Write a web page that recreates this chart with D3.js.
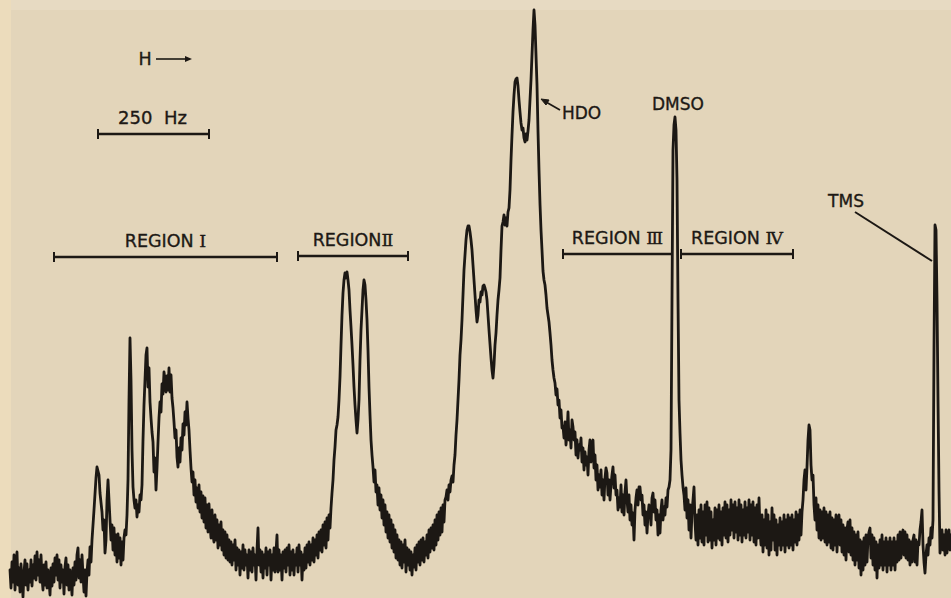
<!DOCTYPE html>
<html>
<head>
<meta charset="utf-8">
<script src="https://cdn.jsdelivr.net/npm/d3@7"></script>
<style>
  html, body { margin: 0; padding: 0; background: #e3d5ba; }
  svg { display: block; }
  text { font-family: "DejaVu Sans", "Liberation Sans", sans-serif; fill: #1d1915; stroke: #1d1915; stroke-width: 0.35; }
  tspan.num { font-family: "DejaVu Serif", "Liberation Serif", serif; }
</style>
</head>
<body>
<svg id="chart" width="951" height="598"></svg>
<script>
// Recorder trace: [chart position, pen deflection] (arbitrary units, field increases to the right)
const trace = [
[10,30],[11,12],[12,38],[13,18],[14,45],[15,10],[16,35],[17,48],[18,15],[19,32],[20,8],[21,36],[22,20],[23,3],[24,28],[25,40],[26,15],[27,36],[28,10],[29,30],[30,18],[31,40],[32,14],[33,35],[34,22],[35,44],[36,20],[37,48],[38,25],[39,40],[40,18],[41,45],[42,22],[43,10],[44,35],[45,15],[46,38],[47,12],[48,30],[49,20],[50,5],[51,32],[52,14],[53,36],[54,18],[55,42],[56,25],[57,45],[58,20],[59,40],[60,12],[61,35],[62,18],[63,30],[64,6],[65,33],[66,42],[67,15],[68,35],[69,10],[70,30],[71,20],[72,5],[73,32],[74,15],[75,38],[76,20],[77,45],[78,52],[79,22],[80,40],[81,18],[82,45],[83,25],[84,8],[85,30],[86,4],[87,28],[88,40],[89,25],[90,53],[91,38],[92,60],[93,75],[94,90],[96,122],[97,133],[99,125],[100,107],[102,88],[103,70],[104,80],[105,47],[106,60],[107,100],[108,120],[109,100],[110,80],[111,60],[112,75],[113,50],[114,72],[115,45],[116,65],[117,38],[118,66],[119,42],[120,62],[121,35],[122,58],[123,40],[124,62],[125,70],[126,65],[127,85],[128,120],[129,200],[130,262],[131,220],[132,150],[133,113],[134,100],[135,92],[136,100],[137,83],[138,95],[139,88],[140,105],[141,100],[142,115],[143,160],[144,195],[145,220],[146,245],[147,252],[148,213],[149,232],[150,198],[151,182],[152,168],[153,158],[154,128],[155,142],[156,110],[157,132],[158,158],[159,182],[160,198],[161,188],[162,216],[163,206],[164,228],[165,220],[166,208],[167,224],[168,210],[169,232],[170,208],[171,225],[172,202],[173,192],[174,178],[175,162],[176,170],[177,143],[178,133],[179,152],[180,138],[181,162],[182,150],[183,176],[184,165],[185,188],[186,175],[187,198],[188,182],[189,170],[190,150],[191,132],[192,118],[193,128],[194,105],[195,120],[196,98],[197,112],[198,92],[199,115],[200,88],[201,108],[202,82],[203,104],[204,78],[205,102],[206,72],[207,95],[208,68],[209,96],[210,75],[211,62],[212,90],[213,65],[214,58],[215,85],[216,60],[217,80],[218,52],[219,75],[220,55],[221,78],[222,50],[223,70],[224,45],[225,68],[226,42],[227,65],[228,40],[229,60],[230,38],[231,58],[232,35],[233,55],[234,40],[235,60],[236,30],[237,52],[238,35],[239,50],[240,25],[241,48],[242,32],[243,55],[244,30],[245,50],[246,35],[247,45],[248,22],[249,50],[250,30],[251,48],[252,28],[253,52],[254,35],[255,45],[256,20],[257,50],[258,72],[259,35],[260,50],[261,28],[262,48],[263,22],[264,45],[265,32],[266,52],[267,25],[268,48],[269,35],[270,50],[271,20],[272,45],[273,30],[274,52],[275,28],[276,48],[277,65],[278,28],[279,50],[280,30],[281,45],[282,20],[283,48],[284,32],[285,50],[286,28],[287,52],[288,35],[289,55],[290,25],[291,48],[292,30],[293,50],[294,25],[295,45],[296,35],[297,52],[298,28],[299,55],[300,35],[301,48],[302,20],[303,45],[304,30],[305,52],[306,32],[307,55],[308,38],[309,58],[310,35],[311,55],[312,40],[313,62],[314,38],[315,60],[316,45],[317,65],[318,42],[319,68],[320,50],[321,70],[322,48],[323,75],[324,55],[325,78],[326,52],[327,82],[328,60],[329,85],[330,72],[331,92],[332,107],[333,120],[334,140],[335,153],[336,170],[337,175],[338,183],[339,200],[340,223],[341,255],[342,285],[343,307],[344,320],[345,327],[346,322],[347,328],[348,320],[349,310],[350,290],[351,273],[352,255],[353,235],[354,213],[355,195],[356,180],[357,167],[358,180],[359,200],[360,240],[361,270],[362,290],[363,310],[364,320],[365,315],[366,300],[367,280],[368,250],[369,213],[370,185],[371,160],[372,145],[373,133],[374,118],[375,130],[376,108],[377,115],[378,95],[379,112],[380,90],[381,105],[382,82],[383,100],[384,75],[385,95],[386,68],[387,88],[388,62],[389,85],[390,58],[391,80],[392,52],[393,75],[394,48],[395,70],[396,42],[397,65],[398,40],[399,60],[400,35],[401,58],[402,32],[403,55],[404,38],[405,60],[406,28],[407,52],[408,35],[409,50],[410,30],[411,48],[412,25],[413,45],[414,33],[415,52],[416,30],[417,55],[418,38],[419,58],[420,35],[421,60],[422,40],[423,62],[424,38],[425,58],[426,45],[427,65],[428,42],[429,70],[430,48],[431,72],[432,52],[433,75],[434,50],[435,80],[436,55],[437,85],[438,60],[439,88],[440,65],[441,92],[442,68],[443,95],[444,78],[445,100],[446,103],[447,110],[448,100],[449,115],[450,108],[451,120],[452,124],[453,118],[454,135],[455,145],[456,165],[457,180],[458,200],[459,220],[460,245],[461,260],[462,280],[463,305],[464,330],[465,345],[466,360],[467,370],[468,374],[469,374],[470,368],[471,360],[472,350],[473,335],[474,320],[475,305],[476,290],[477,278],[478,285],[479,300],[480,298],[481,308],[482,305],[483,314],[484,315],[485,312],[486,308],[487,300],[488,285],[489,270],[490,256],[491,242],[492,230],[493,222],[494,235],[495,255],[496,267],[497,285],[498,300],[499,310],[500,322],[501,350],[502,374],[503,378],[504,385],[505,375],[506,382],[507,374],[508,388],[509,392],[510,410],[511,440],[512,465],[513,488],[514,505],[515,518],[516,521],[517,522],[518,514],[519,500],[520,488],[521,477],[522,470],[523,472],[524,462],[525,458],[526,466],[527,460],[528,469],[529,480],[530,500],[531,520],[532,545],[533,570],[534,590],[535,575],[536,545],[537,515],[538,469],[539,430],[540,396],[541,370],[542,350],[543,329],[544,320],[545,315],[546,305],[547,292],[548,285],[549,278],[550,267],[551,255],[552,240],[553,230],[554,222],[555,217],[556,205],[557,211],[558,195],[559,200],[560,182],[561,190],[562,172],[563,174],[564,162],[565,178],[566,155],[567,167],[568,188],[569,160],[570,170],[571,152],[572,180],[573,173],[574,160],[575,168],[576,145],[577,160],[578,142],[579,155],[580,150],[581,162],[582,138],[583,152],[584,130],[585,148],[586,135],[587,143],[588,125],[589,150],[590,160],[591,138],[592,155],[593,160],[594,132],[595,145],[596,120],[597,135],[598,110],[599,125],[600,113],[601,130],[602,105],[603,120],[604,100],[605,122],[606,132],[607,127],[608,105],[609,120],[610,100],[611,115],[612,125],[613,133],[614,112],[615,125],[616,105],[617,110],[618,90],[619,102],[620,93],[621,115],[622,88],[623,105],[624,85],[625,108],[626,120],[627,100],[628,88],[629,105],[630,80],[631,95],[632,75],[633,87],[634,60],[635,90],[636,102],[637,110],[638,95],[639,113],[640,113],[641,100],[642,105],[643,85],[644,95],[645,75],[646,88],[647,67],[648,85],[649,95],[650,90],[651,75],[652,102],[653,107],[654,88],[655,100],[656,80],[657,90],[658,65],[659,85],[660,67],[661,90],[662,100],[663,80],[664,93],[665,85],[666,102],[667,93],[668,110],[669,113],[670,120],[671,150],[672,300],[673,450],[674,475],[675,483],[676,470],[677,420],[678,300],[679,200],[680,167],[681,140],[682,125],[683,113],[684,105],[685,90],[686,112],[687,82],[688,100],[689,70],[690,95],[691,62],[692,88],[693,100],[694,113],[695,78],[696,60],[697,85],[698,55],[699,90],[700,62],[701,95],[702,58],[703,88],[704,55],[705,95],[706,65],[707,98],[708,58],[709,92],[710,60],[711,88],[712,52],[713,80],[714,60],[715,92],[716,55],[717,90],[718,62],[719,95],[720,60],[721,88],[722,55],[723,92],[724,65],[725,98],[726,62],[727,95],[728,58],[729,90],[730,65],[731,100],[732,70],[733,95],[734,62],[735,98],[736,68],[737,92],[738,60],[739,100],[740,65],[741,95],[742,58],[743,90],[744,65],[745,98],[746,62],[747,92],[748,68],[749,100],[750,60],[751,95],[752,65],[753,98],[754,58],[755,92],[756,55],[757,95],[758,62],[759,102],[760,70],[761,55],[762,85],[763,48],[764,80],[765,55],[766,90],[767,52],[768,85],[769,45],[770,78],[771,50],[772,92],[773,60],[774,85],[775,50],[776,80],[777,45],[778,75],[779,55],[780,82],[781,50],[782,78],[783,55],[784,85],[785,48],[786,80],[787,55],[788,85],[789,52],[790,82],[791,55],[792,85],[793,50],[794,80],[795,58],[796,88],[797,55],[798,85],[799,60],[800,90],[801,65],[802,88],[803,100],[804,120],[805,130],[806,110],[807,133],[808,160],[809,175],[810,170],[811,135],[812,120],[813,125],[814,95],[815,80],[816,102],[817,70],[818,95],[819,62],[820,90],[821,60],[822,88],[823,62],[824,92],[825,58],[826,88],[827,55],[828,85],[829,58],[830,88],[831,52],[832,82],[833,50],[834,80],[835,55],[836,85],[837,48],[838,78],[839,85],[840,55],[841,80],[842,48],[843,75],[844,45],[845,72],[846,40],[847,70],[848,78],[849,48],[850,80],[851,45],[852,72],[853,40],[854,68],[855,35],[856,65],[857,40],[858,68],[859,32],[860,60],[861,25],[862,58],[863,30],[864,62],[865,35],[866,65],[867,38],[868,62],[869,68],[870,72],[871,42],[872,65],[873,35],[874,62],[875,30],[876,58],[877,22],[878,55],[879,32],[880,60],[881,35],[882,65],[883,30],[884,58],[885,35],[886,62],[887,28],[888,58],[889,35],[890,62],[891,30],[892,58],[893,35],[894,62],[895,30],[896,58],[897,38],[898,65],[899,40],[900,68],[901,42],[902,65],[903,70],[904,45],[905,68],[906,42],[907,65],[908,40],[909,60],[910,35],[911,58],[912,38],[913,60],[914,65],[915,38],[916,60],[917,35],[918,58],[919,55],[920,70],[921,78],[922,90],[923,55],[924,38],[925,27],[926,45],[927,55],[928,45],[929,62],[930,55],[931,72],[932,62],[933,80],[934,250],[935,375],[936,370],[937,300],[938,200],[939,110],[940,47],[941,55],[942,70],[943,50],[944,65],[945,45],[946,70],[947,47],[948,62],[949,70],[950,50],[951,65]
];

// Integration regions along the chart position axis
const regionWords   = ["REGION ", "REGION", "REGION ", "REGION "];
const regionNumbers = ["Ⅰ", "Ⅱ", "Ⅲ", "Ⅳ"];
const regionStart = [54, 298, 563, 681];
const regionEnd   = [277, 408, 672, 793];

// Scale bar: 250 Hz expressed in chart position units
const scaleBarLabel = "250  Hz";
const scaleBarFrom = 98;
const scaleBarTo = 209;

// Reference peaks that carry a label
const peakNames = ["HDO", "DMSO", "TMS"];
const peakPos   = [534, 675, 935];

const W = 951, H = 598;
const svg = d3.select("#chart");

const x = d3.scaleLinear().domain([0, 951]).range([0, W]);
const y = d3.scaleLinear().domain([0, 600]).range([600, 0]);

// paper
svg.append("rect").attr("width", W).attr("height", H).attr("fill", "#e3d5ba");
svg.append("rect").attr("width", W).attr("height", 10).attr("fill", "#e7dac2");
svg.append("rect").attr("width", 11).attr("height", H).attr("fill", "#ecdcbc");

const ink = "#1c1814";

// spectrum trace
const line = d3.line().x(d => x(d[0])).y(d => y(d[1]));
svg.append("path")
  .datum(trace)
  .attr("d", line)
  .attr("fill", "none")
  .attr("stroke", ink)
  .attr("stroke-width", 2.8)
  .attr("stroke-linejoin", "round")
  .attr("stroke-linecap", "round");

// bracket helper
function bracket(x0, x1, yy) {
  const g = svg.append("g").attr("stroke", ink).attr("fill", "none");
  g.append("line").attr("x1", x(x0)).attr("x2", x(x1)).attr("y1", yy).attr("y2", yy).attr("stroke-width", 2.4);
  [x0, x1].forEach(v => g.append("line").attr("x1", x(v)).attr("x2", x(v)).attr("y1", yy - 5).attr("y2", yy + 5).attr("stroke-width", 2));
}

// region brackets and labels
const regionY = [257, 256, 254, 254];
regionWords.forEach((word, i) => {
  bracket(regionStart[i], regionEnd[i], regionY[i]);
  const t = svg.append("text")
    .attr("x", x((regionStart[i] + regionEnd[i]) / 2))
    .attr("y", regionY[i] - 10)
    .attr("text-anchor", "middle")
    .attr("font-size", 17.5)
    .style("white-space", "pre");
  t.append("tspan").text(word);
  t.append("tspan").attr("class", "num").text(regionNumbers[i]);
});

// 250 Hz scale bar
bracket(scaleBarFrom, scaleBarTo, 134);
svg.append("text")
  .attr("x", x((scaleBarFrom + scaleBarTo) / 2) - 1)
  .attr("y", 124)
  .attr("text-anchor", "middle")
  .attr("font-size", 18)
  .style("white-space", "pre")
  .text(scaleBarLabel);

// field direction
svg.append("text").attr("x", 145).attr("y", 65).attr("text-anchor", "middle").attr("font-size", 17.5).text("H");
svg.append("line").attr("x1", 156).attr("x2", 188).attr("y1", 59).attr("y2", 59).attr("stroke", ink).attr("stroke-width", 1.6);
svg.append("path").attr("d", "M185,56 L192,59 L185,62 Z").attr("fill", ink);

// HDO label with arrow
svg.append("text").attr("x", x(peakPos[0]) + 28).attr("y", 119).attr("font-size", 17).text(peakNames[0]);
svg.append("line").attr("x1", 560).attr("y1", 110).attr("x2", 546).attr("y2", 102).attr("stroke", ink).attr("stroke-width", 1.8);
svg.append("path").attr("d", "M541,99 L549,100 L546,105 Z").attr("fill", ink).attr("stroke", ink).attr("stroke-width", 1);

// DMSO label
svg.append("text").attr("x", x(peakPos[1]) + 3).attr("y", 110).attr("text-anchor", "middle").attr("font-size", 17).text(peakNames[1]);

// TMS label with leader
svg.append("text").attr("x", 846).attr("y", 207).attr("text-anchor", "middle").attr("font-size", 17).text(peakNames[2]);
svg.append("line").attr("x1", 855).attr("y1", 212).attr("x2", x(peakPos[2]) - 3).attr("y2", 261).attr("stroke", ink).attr("stroke-width", 2);
</script>
</body>
</html>
